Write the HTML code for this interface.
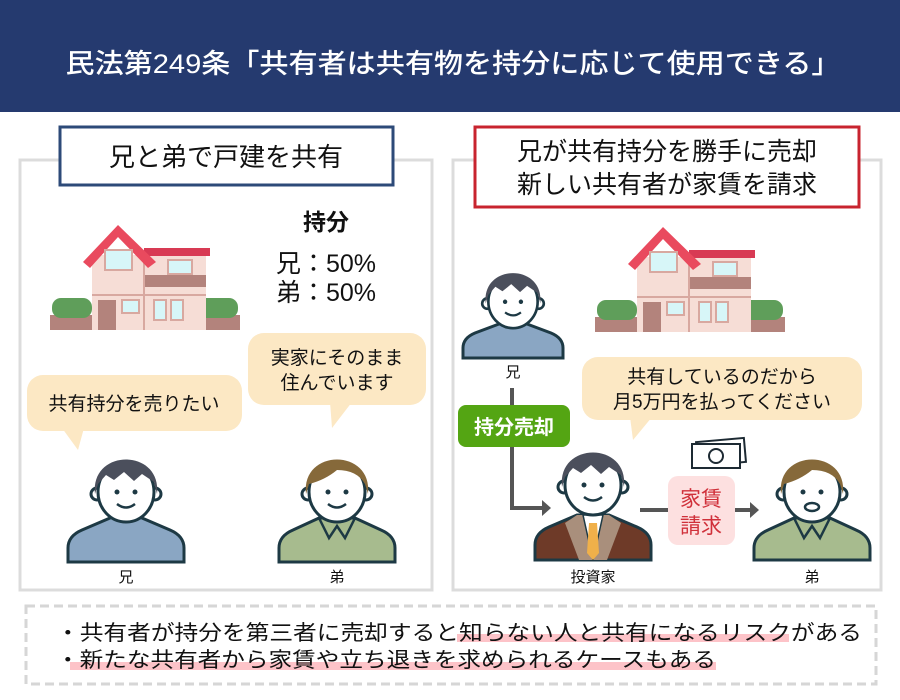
<!DOCTYPE html>
<html><head><meta charset="utf-8"><style>
html,body{margin:0;padding:0;background:#fff;}
svg{display:block;font-family:"Liberation Sans","Noto Sans CJK JP",sans-serif;}
</style></head><body>
<svg width="900" height="700" viewBox="0 0 900 700" xmlns="http://www.w3.org/2000/svg">
<defs>
  <g id="face">
    <circle cx="-29" cy="4" r="6" fill="#fff" stroke="#1d3944" stroke-width="3"/>
    <circle cx="29" cy="4" r="6" fill="#fff" stroke="#1d3944" stroke-width="3"/>
    <ellipse cx="0" cy="2" rx="28" ry="30" fill="#fff" stroke="#1d3944" stroke-width="3"/>
    <circle cx="-9" cy="2" r="2.5" fill="#1d3944"/>
    <circle cx="9" cy="2" r="2.5" fill="#1d3944"/>
    <path d="M-9,14 Q0,21 9,14" fill="none" stroke="#1d3944" stroke-width="2.5"/>
  </g>
  <path id="hairD" d="M-31,4 C-36,-42 36,-42 31,4 L28,-8 L16,-16 L8,-9 L-2,-18 L-12,-10 L-20,-15 L-28,-6 Z" fill="#4b4f5c"/>
  <path id="hairB" d="M-31,4 C-36,-42 36,-42 31,4 L28,-6 Q20,-20 0,-20 Q-12,-10 -28,-6 Z" fill="#86693a"/>
</defs>

<rect x="0" y="0" width="900" height="112" fill="#253a6f"/>
<text x="453" y="73" text-anchor="middle" font-size="27" fill="#fff" font-weight="500" textLength="775" lengthAdjust="spacingAndGlyphs">民法第249条「共有者は共有物を持分に応じて使用できる」</text>

<rect x="20" y="160" width="412" height="430" fill="#fff" stroke="#dcdcdc" stroke-width="3"/>
<rect x="453" y="160" width="428" height="430" fill="#fff" stroke="#dcdcdc" stroke-width="3"/>
<rect x="60" y="127" width="333" height="58" fill="#fff" stroke="#2d4a78" stroke-width="3"/>
<text x="226" y="166" text-anchor="middle" font-size="26" fill="#111">兄と弟で戸建を共有</text>
<rect x="475" y="127" width="384" height="80" fill="#fff" stroke="#c8242f" stroke-width="3"/>
<text x="667" y="160" text-anchor="middle" font-size="25" fill="#111">兄が共有持分を勝手に売却</text>
<text x="667" y="193" text-anchor="middle" font-size="25" fill="#111">新しい共有者が家賃を請求</text>

<g id="house" transform="translate(50,220)">
  <rect x="0" y="95" width="44" height="15" fill="#b3837c"/>
  <rect x="2" y="78" width="40" height="20" rx="9" fill="#5f9e5a"/>
  <rect x="145" y="95" width="45" height="15" fill="#b3837c"/>
  <rect x="147" y="78" width="41" height="20" rx="9" fill="#5f9e5a"/>
  <rect x="42" y="35" width="52" height="75" fill="#f6ddd6"/>
  <rect x="94" y="35" width="62" height="75" fill="#f6ddd6"/>
  <rect x="94" y="55" width="62" height="12" fill="#b3837c"/>
  <line x1="42" y1="75" x2="156" y2="75" stroke="#d8a8a0" stroke-width="2"/>
  <line x1="94" y1="35" x2="94" y2="110" stroke="#d8a8a0" stroke-width="2"/>
  <rect x="94" y="28" width="66" height="8" fill="#d83a54"/>
  <path d="M33,42 L68,5 L106,42 L98,48 L68,17 L40,48 Z" fill="#e94a5e"/>
  <rect x="55" y="30" width="27" height="20" fill="#d7f6f8" stroke="#d8a8a0" stroke-width="2"/>
  <rect x="118" y="40" width="24" height="14" fill="#d7f6f8" stroke="#d8a8a0" stroke-width="2"/>
  <rect x="48" y="80" width="18" height="30" fill="#b3837c"/>
  <rect x="72" y="80" width="17" height="13" fill="#d7f6f8" stroke="#d8a8a0" stroke-width="2"/>
  <rect x="104" y="80" width="12" height="20" fill="#d7f6f8" stroke="#d8a8a0" stroke-width="2"/>
  <rect x="121" y="80" width="12" height="20" fill="#d7f6f8" stroke="#d8a8a0" stroke-width="2"/>
</g>
<use href="#house" transform="translate(545,2)"/>

<text x="326" y="230" text-anchor="middle" font-size="23" font-weight="bold" fill="#111">持分</text>
<text x="326" y="272" text-anchor="middle" font-size="25" fill="#111">兄：50%</text>
<text x="326" y="301" text-anchor="middle" font-size="25" fill="#111">弟：50%</text>

<rect x="27" y="375" width="215" height="56" rx="16" fill="#fce8c4"/>
<path d="M62,428 L78,450 L84,428 Z" fill="#fce8c4"/>
<text x="134" y="410" text-anchor="middle" font-size="19" fill="#111">共有持分を売りたい</text>
<rect x="248" y="333" width="178" height="72" rx="16" fill="#fce8c4"/>
<path d="M330,402 L332,428 L352,402 Z" fill="#fce8c4"/>
<text x="337" y="364" text-anchor="middle" font-size="19" fill="#111">実家にそのまま</text>
<text x="337" y="389" text-anchor="middle" font-size="19" fill="#111">住んでいます</text>

<g transform="translate(126,490)">
  <path d="M-58,72 L-58,58 Q-58,46 -44,40 L-16,28 L-16,22 L16,22 L16,28 L44,40 Q58,46 58,58 L58,72 Z" fill="#8aa6c3" stroke="#1d3944" stroke-width="3"/>
  <use href="#face"/><use href="#hairD"/>
</g>
<text x="126" y="582" text-anchor="middle" font-size="15" fill="#111">兄</text>
<g transform="translate(337,490)">
  <path d="M-58,72 L-58,58 Q-58,46 -44,40 L-18,28 L18,28 L44,40 Q58,46 58,58 L58,72 Z" fill="#a7bb8e" stroke="#1d3944" stroke-width="3"/>
  <path d="M-18,28 L-8,48 L0,36 L8,48 L18,28" fill="none" stroke="#1d3944" stroke-width="2.5"/>
  <use href="#face"/><use href="#hairB"/>
</g>
<text x="337" y="582" text-anchor="middle" font-size="15" fill="#111">弟</text>

<g transform="translate(513,300)">
  <path d="M-50,58 L-50,48 Q-50,38 -38,33 L-14,24 L-14,18 L14,18 L14,24 L38,33 Q50,38 50,48 L50,58 Z" fill="#8aa6c3" stroke="#1d3944" stroke-width="3"/>
  <g transform="scale(0.88)"><use href="#face"/><use href="#hairD"/></g>
</g>
<text x="513" y="377" text-anchor="middle" font-size="15" fill="#111">兄</text>

<path d="M512,388 L512,508 L543,508" fill="none" stroke="#555" stroke-width="4"/>
<path d="M542,500 L551,508 L542,516 Z" fill="#555"/>
<rect x="458" y="405" width="112" height="42" rx="8" fill="#54a513"/>
<text x="514" y="434" text-anchor="middle" font-size="20" font-weight="bold" fill="#fff">持分売却</text>

<rect x="582" y="357" width="280" height="63" rx="16" fill="#fce8c4"/>
<path d="M630,417 L633,440 L652,417 Z" fill="#fce8c4"/>
<text x="722" y="383" text-anchor="middle" font-size="19" fill="#111">共有しているのだから</text>
<text x="722" y="408" text-anchor="middle" font-size="19" fill="#111">月5万円を払ってください</text>

<g fill="#fff" stroke="#1d2a33" stroke-width="2">
  <rect x="697" y="440" width="48" height="24" transform="rotate(-5 721 452)"/>
  <rect x="692" y="444" width="48" height="24"/>
  <circle cx="716" cy="456" r="7"/>
</g>

<g transform="translate(593,483)">
  <path d="M-58,77 L-58,62 Q-58,50 -44,44 L-16,32 L16,32 L44,44 Q58,50 58,62 L58,77 Z" fill="#6e3a28" stroke="#1d3944" stroke-width="3"/>
  <path d="M-16,32 L-28,40 L-14,77 L14,77 L28,40 L16,32 Z" fill="#a98f7c"/>
  <path d="M-10,32 L0,77 L10,32 Z" fill="#fff" stroke="#1d3944" stroke-width="1.5"/>
  <path d="M-4,40 L4,40 L6,70 L0,77 L-6,70 Z" fill="#f0b04a"/>
  <use href="#face"/><use href="#hairD"/>
</g>
<text x="593" y="582" text-anchor="middle" font-size="15" fill="#111">投資家</text>

<line x1="640" y1="510" x2="668" y2="510" stroke="#555" stroke-width="4"/>
<line x1="735" y1="510" x2="752" y2="510" stroke="#555" stroke-width="4"/>
<path d="M750,502 L759,510 L750,518 Z" fill="#555"/>
<rect x="668" y="476" width="67" height="69" rx="10" fill="#fde0e0"/>
<text x="701" y="506" text-anchor="middle" font-size="21" fill="#d0303a">家賃</text>
<text x="701" y="533" text-anchor="middle" font-size="21" fill="#d0303a">請求</text>

<g transform="translate(812,490)">
  <path d="M-58,70 L-58,58 Q-58,46 -44,40 L-18,28 L18,28 L44,40 Q58,46 58,58 L58,70 Z" fill="#a7bb8e" stroke="#1d3944" stroke-width="3"/>
  <path d="M-18,28 L-8,48 L0,36 L8,48 L18,28" fill="none" stroke="#1d3944" stroke-width="2.5"/>
  <circle cx="-29" cy="4" r="6" fill="#fff" stroke="#1d3944" stroke-width="3"/>
  <circle cx="29" cy="4" r="6" fill="#fff" stroke="#1d3944" stroke-width="3"/>
  <ellipse cx="0" cy="2" rx="28" ry="30" fill="#fff" stroke="#1d3944" stroke-width="3"/>
  <circle cx="-9" cy="2" r="2.5" fill="#1d3944"/><circle cx="9" cy="2" r="2.5" fill="#1d3944"/>
  <ellipse cx="0" cy="17" rx="7" ry="4" fill="#fff" stroke="#1d3944" stroke-width="2.5"/>
  <use href="#hairB"/>
</g>
<text x="812" y="582" text-anchor="middle" font-size="15" fill="#111">弟</text>

<rect x="26" y="606" width="850" height="78" fill="#fff" stroke="#d6d6d6" stroke-width="3" stroke-dasharray="9 5"/>
<rect x="457" y="634" width="332" height="8" fill="#fdc3c8"/>
<rect x="70" y="662" width="646" height="8" fill="#fdc3c8"/>
<text x="56" y="640" font-size="21" fill="#111" textLength="806" lengthAdjust="spacingAndGlyphs">・共有者が持分を第三者に売却すると知らない人と共有になるリスクがある</text>
<text x="56" y="667" font-size="21" fill="#111" textLength="660" lengthAdjust="spacingAndGlyphs">・新たな共有者から家賃や立ち退きを求められるケースもある</text>
</svg>
</body></html>
